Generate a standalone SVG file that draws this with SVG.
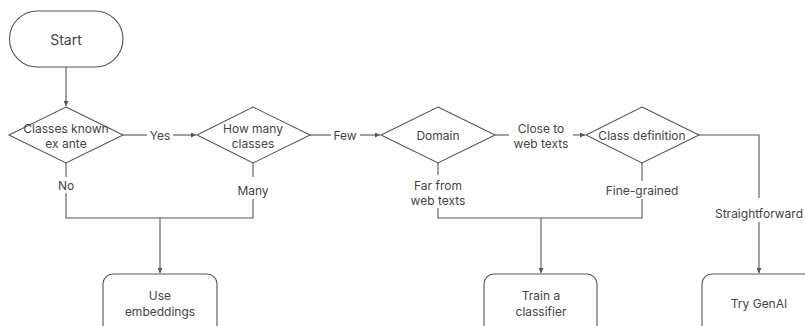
<svg xmlns="http://www.w3.org/2000/svg" width="805" height="326" viewBox="0 0 805 326">
<defs>
<marker id="ah" viewBox="0 0 6 6" refX="6" refY="3" markerWidth="5" markerHeight="5" orient="auto" markerUnits="userSpaceOnUse">
<path d="M0,0 L6,3 L0,6 Z" fill="#555"/>
</marker>
<style>
.shape{fill:#fff;stroke:#555;stroke-width:1.1}
.c{fill:none;stroke:#555;stroke-width:1.1}
text{font-family:Inter,"Noto Sans","Liberation Sans",sans-serif;font-size:12px;fill:#444;text-anchor:middle;dominant-baseline:central}
</style>
</defs>
<rect width="805" height="326" fill="#fff"/>
<g id="connectors">
<path class="c" d="M66,67 V106" marker-end="url(#ah)"/>
<path class="c" d="M123,135 H147"/>
<path class="c" d="M173,135 H196" marker-end="url(#ah)"/>
<path class="c" d="M310,135 H331"/>
<path class="c" d="M360,135 H380" marker-end="url(#ah)"/>
<path class="c" d="M495,135 H509"/>
<path class="c" d="M573,135 H585" marker-end="url(#ah)"/>
<path class="c" d="M699,135 H759 V198"/>
<path class="c" d="M759,222 V273" marker-end="url(#ah)"/>
<path class="c" d="M66,163 V177"/>
<path class="c" d="M66,193 V218 H253 V199"/>
<path class="c" d="M253,163 V177"/>
<path class="c" d="M160,218 V273" marker-end="url(#ah)"/>
<path class="c" d="M438,163 V175"/>
<path class="c" d="M438,208 V218 H642 V199"/>
<path class="c" d="M642,163 V181"/>
<path class="c" d="M541,218 V273" marker-end="url(#ah)"/>
<text x="160" y="135">Yes</text>
<text x="345" y="135">Few</text>
<text x="541" y="128">Close to</text>
<text x="541" y="143">web texts</text>
<text x="66" y="185">No</text>
<text x="253" y="190">Many</text>
<text x="438" y="185">Far from</text>
<text x="438" y="200">web texts</text>
<text x="642" y="190">Fine-grained</text>
<text x="759" y="213">Straightforward</text>
</g>
<g id="start">
<rect class="shape" x="9.5" y="11" width="113.5" height="56" rx="28"/>
<text x="66" y="39" style="font-size:14px">Start</text>
</g>
<g id="classes-known">
<path class="shape" d="M66,107 L123,135 L66,163 L9,135 Z"/>
<text x="66" y="128">Classes known</text>
<text x="66" y="143">ex ante</text>
</g>
<g id="how-many">
<path class="shape" d="M253,107 L310,135 L253,163 L197,135 Z"/>
<text x="253" y="128">How many</text>
<text x="253" y="143">classes</text>
</g>
<g id="domain">
<path class="shape" d="M438,107 L495,135 L438,163 L381,135 Z"/>
<text x="438" y="135">Domain</text>
</g>
<g id="class-definition">
<path class="shape" d="M642,107 L699,135 L642,163 L586,135 Z"/>
<text x="642" y="135">Class definition</text>
</g>
<g id="use-embeddings">
<rect class="shape" x="103" y="274" width="114" height="62" rx="10"/>
<text x="160" y="295">Use</text>
<text x="160" y="311">embeddings</text>
</g>
<g id="train-classifier">
<rect class="shape" x="484" y="274" width="113" height="62" rx="10"/>
<text x="541" y="295">Train a</text>
<text x="541" y="311">classifier</text>
</g>
<g id="try-genai">
<rect class="shape" x="702" y="274" width="114" height="62" rx="10"/>
<text x="759" y="303">Try GenAI</text>
</g>
</svg>
